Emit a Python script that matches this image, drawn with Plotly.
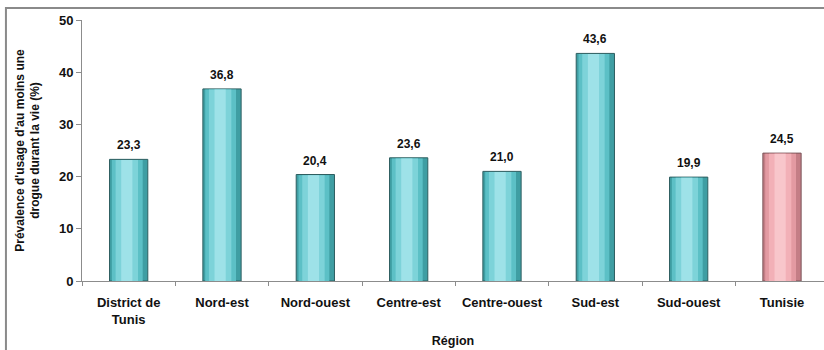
import plotly.graph_objects as go

regions = ["District de<br>Tunis", "Nord-est", "Nord-ouest", "Centre-est",
           "Centre-ouest", "Sud-est", "Sud-ouest", "Tunisie"]
prevalence = [23.3, 36.8, 20.4, 23.6, 21.0, 43.6, 19.9, 24.5]
y_ticks = [0, 10, 20, 30, 40, 50]

# shading palettes: regions in teal, national total in pink
teal = ["#3f9ea3", "#5cc0c6", "#7dd3d9", "#9ee2e8"]
pink = ["#c47e86", "#e39aa2", "#f2b0b7", "#f8c6cb"]
edge_teal = "#2e5e60"
edge_pink = "#7a5458"

def shade(level):
    return [pink[level] if r == "Tunisie" else teal[level] for r in regions]

FONT = "Liberation Sans, Arial, sans-serif"
BAR_W = 0.41

fig = go.Figure()

# outer bar with outline
fig.add_trace(go.Bar(
    x=regions, y=prevalence, width=BAR_W,
    marker=dict(color=shade(0),
                line=dict(color=[edge_pink if r == "Tunisie" else edge_teal for r in regions], width=1)),
    hoverinfo="skip",
))
# inner layers give a rounded, lit look
for level, (w, off) in enumerate([(0.33, -0.015), (0.24, -0.02), (0.12, -0.02)], start=1):
    fig.add_trace(go.Bar(
        x=regions, y=[v - 0.12 for v in prevalence], base=[0.0] * len(prevalence),
        width=w, offset=-w / 2 + off,
        marker=dict(color=shade(level), line=dict(width=0)),
        hoverinfo="skip",
    ))

# value labels above each bar
for r, v in zip(regions, prevalence):
    fig.add_annotation(
        x=r, y=v, text=f"{v:.1f}".replace(".", ","),
        showarrow=False, yanchor="bottom", yshift=5,
        font=dict(family=FONT, size=12, color="#111", weight="bold"),
    )

# light gray frame around the chart
fig.add_shape(type="rect", xref="paper", yref="paper",
              x0=-0.1025, x1=1.2, y0=-0.5, y1=1.046,
              line=dict(color="#8a8a8a", width=2), fillcolor="rgba(0,0,0,0)", layer="below")

fig.update_layout(
    width=824, height=350,
    margin=dict(l=82, r=0, t=20, b=69),
    paper_bgcolor="white", plot_bgcolor="white",
    barmode="overlay", showlegend=False,
    font=dict(family=FONT, size=12, color="#111"),
)
fig.update_xaxes(
    type="category", range=[-0.5, 7.45],
    showline=True, linecolor="#8c8c8c", linewidth=1,
    ticks="outside", tickson="boundaries", ticklen=4, tickcolor="#8c8c8c",
    ticklabelstandoff=9,
    tickfont=dict(family=FONT, size=13, color="#111", weight="bold"),
    title=dict(text="Région", font=dict(family=FONT, size=12.5, color="#111", weight="bold"), standoff=10),
    showgrid=False, fixedrange=True,
)
fig.update_yaxes(
    range=[0, 50], tickvals=y_ticks,
    showline=True, linecolor="#8c8c8c", linewidth=1,
    ticks="outside", ticklen=5, tickcolor="#8c8c8c",
    tickfont=dict(family=FONT, size=13, color="#111", weight="bold"),
    title=dict(text="Prévalence d'usage d'au moins une<br>drogue durant la vie (%)",
               font=dict(family=FONT, size=12, color="#111", weight="bold"), standoff=16),
    showgrid=False, zeroline=False, fixedrange=True,
)

fig.write_html("out.html")
